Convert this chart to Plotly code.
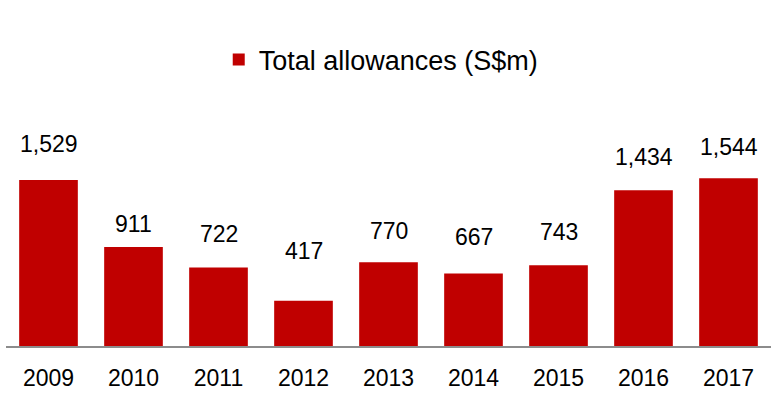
import plotly.graph_objects as go

# Total allowances by year, S$m
years = [2009, 2010, 2011, 2012, 2013, 2014, 2015, 2016, 2017]
allowances = [1529, 911, 722, 417, 770, 667, 743, 1434, 1544]

# vertical gap (px) between each bar top and the centre of its value label
label_gap = [35, 22, 33, 49, 30, 36, 32, 32, 30]

BAR_RED = "#C00000"
FONT = "Liberation Sans, Arial, sans-serif"

fig = go.Figure()
fig.add_trace(go.Bar(
    x=years,
    y=allowances,
    name="Total allowances (S$m)",
    marker=dict(color=BAR_RED, line=dict(width=0)),
    width=0.69,
    showlegend=True,
))

for yr, val, gap in zip(years, allowances, label_gap):
    fig.add_annotation(
        x=yr, y=val, text=f"{val:,}", showarrow=False,
        yanchor="middle", xanchor="center", yshift=gap + 1,
        font=dict(family=FONT, size=23, color="#000000"),
    )

fig.update_layout(
    width=773, height=393,
    margin=dict(l=6, r=1.5, t=100, b=47),
    paper_bgcolor="white", plot_bgcolor="white",
    font=dict(family=FONT, color="#000000"),
    showlegend=True,
    legend=dict(
        orientation="h", x=0.4905, xanchor="center",
        y=1.163, yanchor="middle",
        font=dict(family=FONT, size=27, color="#000000"),
        itemwidth=30,
    ),
)
fig.update_xaxes(
    range=[years[0] - 0.5, years[-1] + 0.5],
    tickmode="array", tickvals=years, ticktext=[str(y) for y in years],
    showline=True, linecolor="#8C8C8C", linewidth=2,
    ticks="", showgrid=False, zeroline=False,
    tickfont=dict(family=FONT, size=23, color="#000000"),
    ticklabelstandoff=10,
)
fig.update_yaxes(
    range=[0, 2265], visible=False, showgrid=False, zeroline=False,
)

fig.write_html("out.html")
